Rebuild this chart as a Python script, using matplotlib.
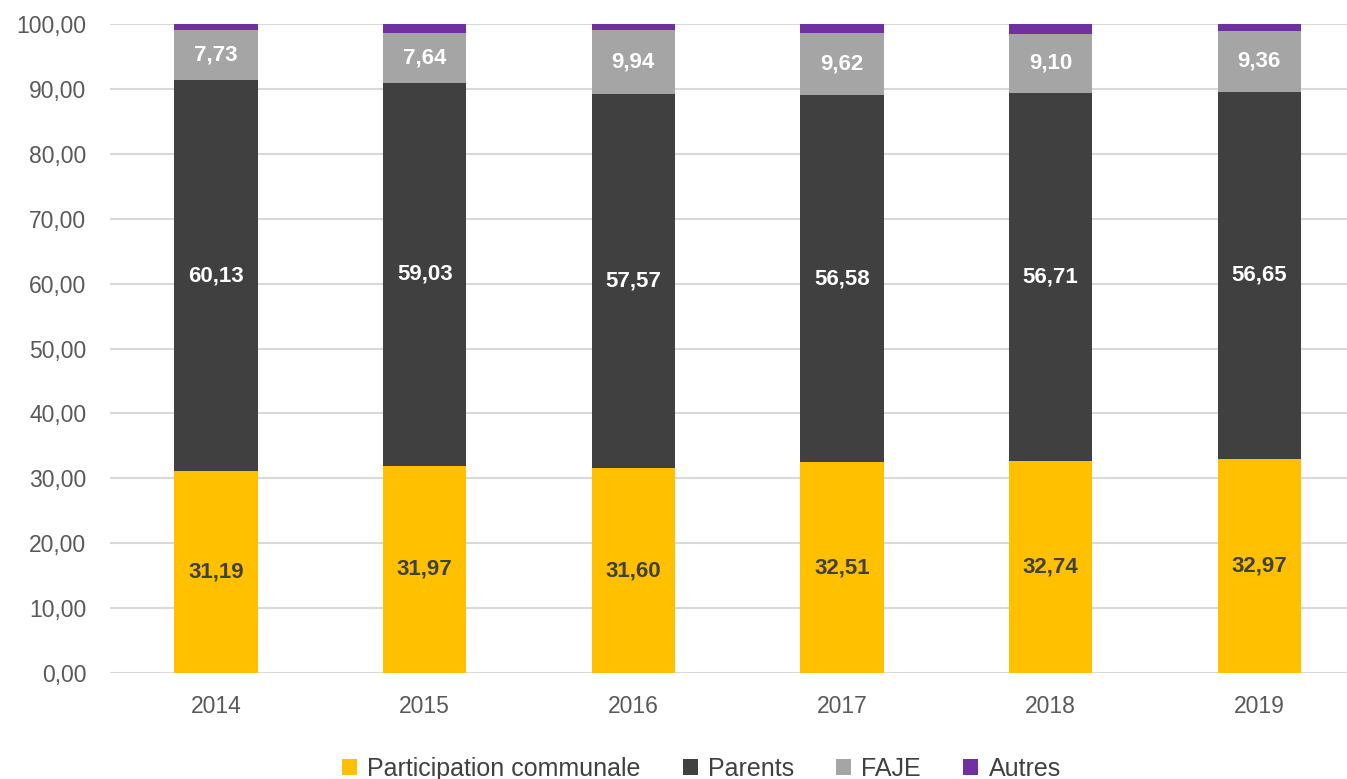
import numpy as np
import matplotlib.pyplot as plt
from matplotlib import font_manager

years = ["2014", "2015", "2016", "2017", "2018", "2019"]
communale = [31.19, 31.97, 31.60, 32.51, 32.74, 32.97]
parents = [60.13, 59.03, 57.57, 56.58, 56.71, 56.65]
faje = [7.73, 7.64, 9.94, 9.62, 9.10, 9.36]
autres = [0.95, 1.36, 0.89, 1.29, 1.45, 1.02]

names = ["Participation communale", "Parents", "FAJE", "Autres"]
colors = ["#FFC000", "#404040", "#A5A5A5", "#7030A0"]

installed = {f.name for f in font_manager.fontManager.ttflist}
fam = [f for f in ["Liberation Sans Narrow", "Liberation Sans", "DejaVu Sans"] if f in installed]
plt.rcParams['font.family'] = fam

fig = plt.figure(figsize=(13.47, 7.79), dpi=100)
ax = fig.add_axes([0.0817, 0.136, 0.9183, 0.833])

x = np.arange(len(years))
series = [communale, parents, faje, autres]
bottom = np.zeros(len(years))
for vals, name, col in zip(series, names, colors):
    ax.bar(x, vals, 0.40, bottom=bottom, color=col, label=name, zorder=3)
    bottom += np.array(vals)

def fmt(v):
    return f"{v:.2f}".replace(".", ",")

txtcol = ["#404040", "white", "white"]
bottom = np.zeros(len(years))
for k in range(3):
    vals = np.array(series[k])
    for i, v in enumerate(vals):
        ax.text(x[i], bottom[i] + v / 2, fmt(v), ha="center", va="center",
                fontsize=16, fontweight="bold", color=txtcol[k], zorder=4)
    bottom += vals

ax.set_xlim(-0.508, 5.42)
ax.set_ylim(0, 100)
ax.set_yticks(np.arange(0, 101, 10))
ax.set_yticklabels([fmt(t) for t in np.arange(0, 101, 10)])
ax.set_xticks(x)
ax.set_xticklabels(years)
ax.tick_params(axis="both", length=0, labelsize=16.5, colors="#595959")
ax.tick_params(axis="x", pad=16)
ax.tick_params(axis="y", pad=17)
ax.grid(axis="y", color="#D9D9D9", linewidth=1.5, zorder=0)
for s in ax.spines.values():
    s.set_visible(False)

ax.legend(loc="upper center", bbox_to_anchor=(0.478, -0.095), ncol=4, frameon=False,
          fontsize=18, handlelength=0.6, handleheight=0.6, handletextpad=0.4,
          columnspacing=1.7, labelcolor="#404040")

fig.savefig("out.png", dpi=100)
